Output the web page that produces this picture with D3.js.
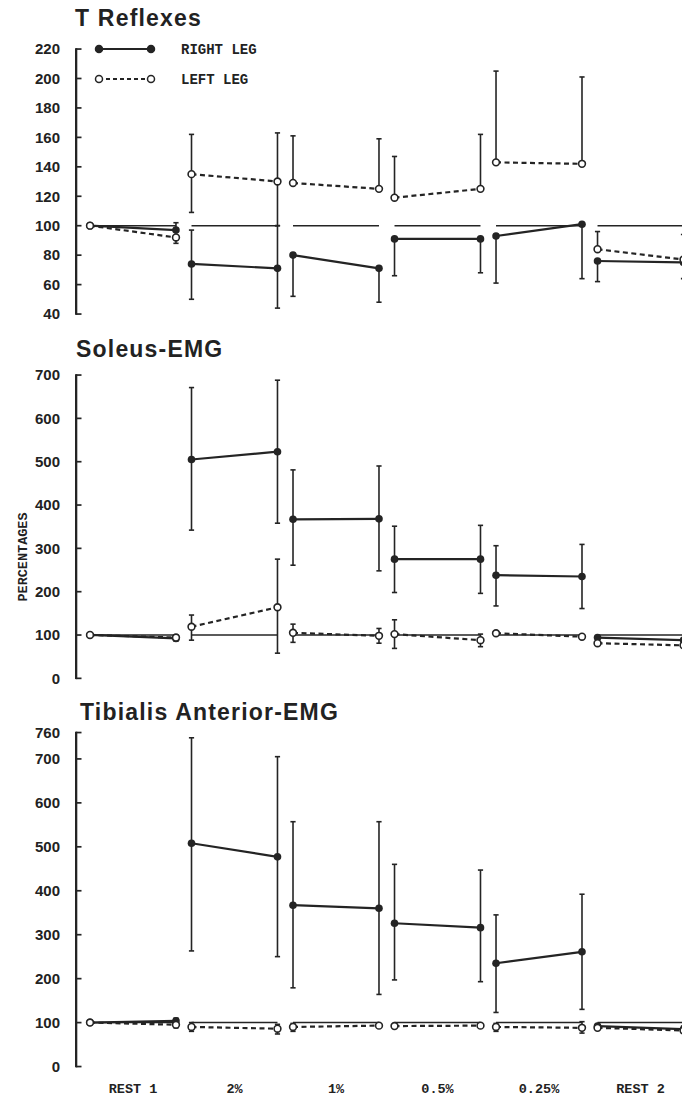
<!DOCTYPE html>
<html>
<head>
<meta charset="utf-8">
<script src="https://cdn.jsdelivr.net/npm/d3@7"></script>
<style>
  html, body { margin: 0; padding: 0; background: #fff; }
  svg { display: block; }
  .title { font-family: 'Liberation Sans', Arial, sans-serif; font-weight: bold; font-size: 23px; letter-spacing: 1.2px; fill: #222; }
  .y-axis text { font-family: 'Liberation Sans', Arial, sans-serif; font-weight: bold; font-size: 15px; fill: #222; }
  .mono { font-family: 'Liberation Mono', 'DejaVu Sans Mono', monospace; font-weight: bold; fill: #222; }
</style>
</head>
<body>
<svg id="chart"></svg>
<script>
// Conditions along the x axis; each one holds a start and an end measurement
const conditions = ['REST 1', '2%', '1%', '0.5%', '0.25%', 'REST 2'];

// T Reflexes (values read at start/end of every condition, 12 points)
const tTicks    = [40, 60, 80, 100, 120, 140, 160, 180, 200, 220];
const tRight    = [100, 97, 74, 71, 80, 71, 91, 91, 93, 101, 76, 75];
const tRightHi  = [null, 102, 97, 100, null, null, null, null, null, null, null, null];
const tRightLo  = [null, null, 50, 44, 52, 48, 66, 68, 61, 64, 62, 64];
const tLeft     = [100, 92, 135, 130, 129, 125, 119, 125, 143, 142, 84, 77];
const tLeftHi   = [null, null, 162, 163, 161, 159, 147, 162, 205, 201, 96, 94];
const tLeftLo   = [null, 88, 109, 100, null, null, null, null, null, null, null, null];

// Soleus-EMG
const sTicks    = [0, 100, 200, 300, 400, 500, 600, 700];
const sRight    = [100, 92, 505, 523, 367, 368, 275, 275, 238, 235, 94, 88];
const sRightHi  = [null, null, 671, 688, 481, 490, 351, 353, 306, 309, null, null];
const sRightLo  = [null, null, 342, 358, 261, 248, 198, 196, 167, 161, null, null];
const sLeft     = [100, 94, 119, 164, 105, 98, 102, 88, 104, 96, 81, 76];
const sLeftHi   = [null, 100, 146, 275, 125, 115, 135, 102, null, null, null, null];
const sLeftLo   = [null, 86, 88, 58, 83, 81, 69, 73, null, null, null, null];

// Tibialis Anterior-EMG
const aTicks    = [0, 100, 200, 300, 400, 500, 600, 700, 760];
const aRight    = [100, 104, 508, 477, 367, 360, 326, 316, 235, 261, 92, 85];
const aRightHi  = [null, 110, 748, 705, 557, 557, 460, 447, 345, 392, null, null];
const aRightLo  = [null, null, 263, 250, 179, 164, 197, 193, 123, 130, null, null];
const aLeft     = [100, 95, 90, 86, 90, 93, 92, 93, 90, 88, 88, 82];
const aLeftHi   = [null, null, 100, 96, 98, null, null, null, 98, 102, null, 92];
const aLeftLo   = [null, 88, 80, 74, 80, null, null, null, 80, 76, null, 76];

const ink = '#242424';
const width = 682, height = 1102;
const axisX = 76;

const svg = d3.select('#chart').attr('width', width).attr('height', height);

const x = d3.scaleBand()
    .domain(conditions)
    .range([90, 683.5])
    .paddingInner(0.153)
    .paddingOuter(0);

const xAt = i => x(conditions[Math.floor(i / 2)]) + (i % 2 ? x.bandwidth() : 0);

const panels = [
    { title: 'T Reflexes', tx: 75, ty: 26, domain: [40, 220], range: [314, 49], ticks: tTicks,
      right: tRight, rightHi: tRightHi, rightLo: tRightLo, left: tLeft, leftHi: tLeftHi, leftLo: tLeftLo },
    { title: 'Soleus-EMG', tx: 76, ty: 357, domain: [0, 700], range: [678.3, 375], ticks: sTicks,
      right: sRight, rightHi: sRightHi, rightLo: sRightLo, left: sLeft, leftHi: sLeftHi, leftLo: sLeftLo },
    { title: 'Tibialis Anterior-EMG', tx: 80, ty: 720, domain: [0, 760], range: [1066.5, 732.5], ticks: aTicks,
      right: aRight, rightHi: aRightHi, rightLo: aRightLo, left: aLeft, leftHi: aLeftHi, leftLo: aLeftLo }
];

panels.forEach(p => drawPanel(p));

function drawPanel(p) {
    const y = d3.scaleLinear().domain(p.domain).range(p.range);
    const g = svg.append('g');

    g.append('text')
        .attr('class', 'title')
        .attr('x', p.tx)
        .attr('y', p.ty)
        .text(p.title);

    // Tick labels come from d3; the axis line itself is drawn separately
    const axis = g.append('g')
        .attr('class', 'y-axis')
        .attr('transform', `translate(${axisX},0)`)
        .call(d3.axisLeft(y).tickValues(p.ticks).tickSize(0).tickPadding(16));
    axis.select('.domain').remove();

    // Reference line at 100 % for each condition
    conditions.forEach(c => {
        g.append('line')
            .attr('x1', x(c)).attr('x2', x(c) + x.bandwidth())
            .attr('y1', y(100)).attr('y2', y(100))
            .attr('stroke', ink)
            .attr('stroke-width', 1.5);
    });

    // Error bars
    const bar = (i, v, end) => {
        if (end == null) return;
        g.append('line')
            .attr('x1', xAt(i)).attr('x2', xAt(i))
            .attr('y1', y(v)).attr('y2', y(end))
            .attr('stroke', ink).attr('stroke-width', 1.6);
        g.append('line')
            .attr('x1', xAt(i) - 2.6).attr('x2', xAt(i) + 2.6)
            .attr('y1', y(end)).attr('y2', y(end))
            .attr('stroke', ink).attr('stroke-width', 1.6);
    };
    p.right.forEach((v, i) => { bar(i, v, p.rightHi[i]); bar(i, v, p.rightLo[i]); });
    p.left.forEach((v, i) => { bar(i, v, p.leftHi[i]); bar(i, v, p.leftLo[i]); });

    // Lines joining start and end of each condition
    const series = [
        { vals: p.right, dash: null },
        { vals: p.left, dash: '5,3.5' }
    ];
    series.forEach(s => {
        conditions.forEach((c, k) => {
            g.append('line')
                .attr('x1', xAt(2 * k)).attr('x2', xAt(2 * k + 1))
                .attr('y1', y(s.vals[2 * k])).attr('y2', y(s.vals[2 * k + 1]))
                .attr('stroke', ink)
                .attr('stroke-width', 2.2)
                .attr('stroke-dasharray', s.dash);
        });
    });

    // Markers
    g.selectAll(null)
        .data(p.right)
        .join('circle')
        .attr('cx', (d, i) => xAt(i))
        .attr('cy', d => y(d))
        .attr('r', 3.8)
        .attr('fill', ink);

    g.selectAll(null)
        .data(p.left)
        .join('circle')
        .attr('cx', (d, i) => xAt(i))
        .attr('cy', d => y(d))
        .attr('r', 3.4)
        .attr('fill', '#fff')
        .attr('stroke', ink)
        .attr('stroke-width', 1.6);

    // Axis spine and inward ticks (end ticks double as the corner caps)
    const yTop = y(p.domain[1]), yBot = y(p.domain[0]);
    svg.append('rect')
        .attr('x', axisX - 1).attr('y', yTop - 0.8)
        .attr('width', 2.3).attr('height', yBot - yTop + 1.6)
        .attr('fill', ink);
    svg.selectAll(null)
        .data(p.ticks)
        .join('rect')
        .attr('x', axisX).attr('y', d => y(d) - 0.8)
        .attr('width', 5.5).attr('height', 1.7)
        .attr('fill', ink);
}

// Legend (top panel)
const legend = svg.append('g');
[
    { label: 'RIGHT LEG', y: 49, dash: null, fill: ink },
    { label: 'LEFT LEG', y: 79, dash: '4,3', fill: '#fff' }
].forEach(d => {
    legend.append('line')
        .attr('x1', 99).attr('x2', 151)
        .attr('y1', d.y).attr('y2', d.y)
        .attr('stroke', ink).attr('stroke-width', 2)
        .attr('stroke-dasharray', d.dash);
    [99, 151].forEach(cx => {
        legend.append('circle')
            .attr('cx', cx).attr('cy', d.y)
            .attr('r', 3.5)
            .attr('fill', d.fill)
            .attr('stroke', ink).attr('stroke-width', 1.5);
    });
    legend.append('text')
        .attr('class', 'mono')
        .attr('x', 181)
        .attr('y', d.y + 5)
        .style('font-size', '14px')
        .text(d.label);
});

// X axis labels (below bottom panel)
const xAxis = svg.append('g')
    .attr('transform', 'translate(0,1066.5)')
    .call(d3.axisBottom(x).tickSize(0).tickPadding(17));
xAxis.select('.domain').remove();
xAxis.selectAll('text')
    .attr('class', 'mono')
    .style('font-size', '13.5px');

// Y axis title
svg.append('text')
    .attr('class', 'mono')
    .attr('transform', 'translate(27,557) rotate(-90)')
    .attr('text-anchor', 'middle')
    .style('font-size', '13.5px')
    .text('PERCENTAGES');
</script>
</body>
</html>
